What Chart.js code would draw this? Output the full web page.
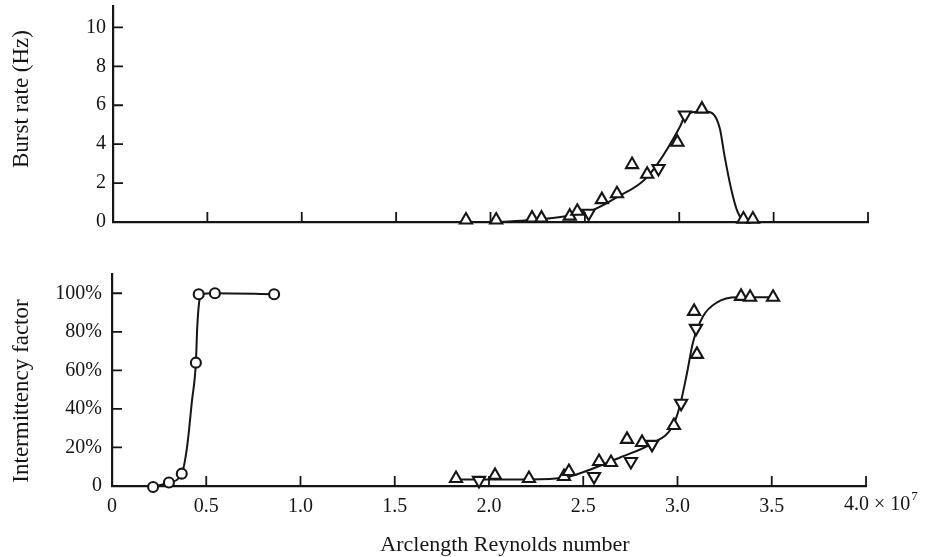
<!DOCTYPE html>
<html lang="en">
<head>
  <meta charset="UTF-8">
  <title>Burst rate and intermittency factor vs arclength Reynolds number</title>
  <style>
    body {
      margin: 0;
      background: #fff;
    }

    .wrap {
      position: relative;
      width: 936px;
      height: 557px;
    }

    .wrap canvas {
      position: absolute;
      left: 0;
      top: 0;
    }
  </style>
  <script src="https://cdn.jsdelivr.net/npm/chart.js"></script>
</head>
<body>
  <div class="wrap">
    <canvas id="burstChart" width="936" height="557"></canvas>
    <canvas id="gammaChart" width="936" height="557"></canvas>
  </div>

  <script>
    // x: arclength Reynolds number, in units of 10^7
    const reTicks = [0, 0.5, 1.0, 1.5, 2.0, 2.5, 3.0, 3.5, 4.0];
    const burstTicks = [0, 2, 4, 6, 8, 10];
    const gammaTicks = [0, 20, 40, 60, 80, 100];

    // top panel - burst rate (Hz)
    const burstUpX = [1.87, 2.03, 2.22, 2.27, 2.42, 2.46, 2.59, 2.67, 2.75, 2.83, 2.99, 3.12, 3.34, 3.39];
    const burstUpY = [0.1, 0.1, 0.2, 0.2, 0.3, 0.55, 1.15, 1.45, 2.95, 2.45, 4.1, 5.8, 0.15, 0.15];
    const burstDownX = [2.52, 2.89, 3.03];
    const burstDownY = [0.45, 2.75, 5.5];
    const burstCurveX = [2.035, 2.215, 2.406, 2.544, 2.671, 2.83, 3.005, 3.03, 3.08, 3.14, 3.18, 3.215, 3.24, 3.275, 3.31, 3.36, 3.47];
    const burstCurveY = [0, 0.1, 0.31, 0.62, 1.28, 2.31, 4.92, 5.45, 5.65, 5.68, 5.55, 4.8, 3.4, 1.7, 0.5, 0, 0];

    // bottom panel - intermittency factor (%)
    const gammaCircleX = [0.218, 0.302, 0.37, 0.445, 0.46, 0.546, 0.86];
    const gammaCircleY = [-0.5, 1.8, 6.4, 64, 99.5, 100, 99.5];
    const circleCurveX = [0.218, 0.302, 0.37, 0.398, 0.424, 0.445, 0.452, 0.462, 0.475, 0.546, 0.86];
    const circleCurveY = [-0.5, 1.8, 6.4, 20, 44, 64, 82, 95, 99.5, 100, 99.5];
    const gammaUpX = [1.825, 2.032, 2.212, 2.398, 2.424, 2.584, 2.647, 2.732, 2.812, 2.981, 3.088, 3.103, 3.337, 3.385, 3.507];
    const gammaUpY = [3.9, 5.5, 3.9, 4.9, 7.5, 12.7, 12.2, 24.2, 22.6, 31.4, 90.6, 68.3, 98.4, 97.9, 97.9];
    const gammaDownX = [1.947, 2.557, 2.753, 2.865, 3.019, 3.098];
    const gammaDownY = [2.9, 4.9, 12.7, 21.6, 42.9, 81.8];
    const gammaCurveX = [1.825, 2.032, 2.212, 2.403, 2.552, 2.695, 2.865, 2.976, 3.013, 3.05, 3.082, 3.135, 3.21, 3.316, 3.507];
    const gammaCurveY = [3.4, 3.4, 3.4, 4.4, 9.1, 14.8, 22.1, 31.4, 41.8, 58.4, 74.5, 88, 95.3, 97.9, 97.9];

    const INK = '#151515';
    const SERIF = "'Liberation Serif', 'DejaVu Serif', serif";
    const TICK_FONT = { family: SERIF, size: 20 };

    const toPoints = (xs, ys) => xs.map((x, i) => ({ x: x, y: ys[i] }));

    function markers(xs, ys, style, rotation, radius) {
      return {
        data: toPoints(xs, ys),
        showLine: false,
        pointStyle: style,
        pointRotation: rotation,
        pointRadius: radius,
        pointBackgroundColor: '#fff',
        pointBorderColor: INK,
        pointBorderWidth: 2.1,
        clip: false
      };
    }

    function curve(xs, ys) {
      return {
        data: toPoints(xs, ys),
        showLine: true,
        pointRadius: 0,
        borderColor: INK,
        borderWidth: 2,
        cubicInterpolationMode: 'monotone',
        fill: false,
        clip: false
      };
    }

    // tick marks point into the plot, like the printed figure; titles placed by hand
    const figureDecor = {
      id: 'figureDecor',
      afterDraw(chart, args, opts) {
        const { ctx, chartArea, scales } = chart;
        ctx.save();
        ctx.strokeStyle = INK;
        ctx.lineWidth = 1.8;
        ctx.beginPath();
        scales.x.ticks.forEach(t => {
          if (t.value === 0) return;
          const px = scales.x.getPixelForValue(t.value);
          ctx.moveTo(px, chartArea.bottom);
          ctx.lineTo(px, chartArea.bottom - 10);
        });
        scales.y.ticks.forEach(t => {
          if (t.value === 0) return;
          const py = scales.y.getPixelForValue(t.value);
          ctx.moveTo(chartArea.left, py);
          ctx.lineTo(chartArea.left + 10, py);
        });
        ctx.stroke();

        ctx.fillStyle = INK;
        ctx.textAlign = 'center';
        ctx.textBaseline = 'middle';

        // y axis title
        ctx.font = '23px ' + SERIF;
        ctx.save();
        ctx.translate(22, opts.yTitleY);
        ctx.rotate(-Math.PI / 2);
        ctx.fillText(opts.yTitle, 0, 0);
        ctx.restore();

        if (opts.xLabels) {
          ctx.font = '22px ' + SERIF;
          ctx.fillText('Arclength Reynolds number', 505, 545);

          // "4.0 × 10^7" sits a little left of the last tick
          const px = scales.x.getPixelForValue(4);
          const y = chartArea.bottom + scales.x.options.ticks.padding;
          ctx.textBaseline = 'top';
          ctx.textAlign = 'left';
          ctx.font = TICK_FONT.size + 'px ' + SERIF;
          const start = px - 22;
          ctx.fillText('4.0', start, y);
          const w1 = ctx.measureText('4.0 ').width;
          ctx.fillText('× 10', start + w1, y);
          const w2 = ctx.measureText('× 10').width;
          ctx.font = '13px ' + SERIF;
          ctx.fillText('7', start + w1 + w2 + 1, y - 5);
        }
        ctx.restore();
      }
    };

    function buildOptions(cfg) {
      return {
        responsive: false,
        animation: false,
        events: [],
        layout: {
          autoPadding: false,
          padding: { left: 0, top: cfg.top, right: cfg.right, bottom: cfg.bottom }
        },
        plugins: {
          legend: { display: false },
          tooltip: { enabled: false },
          figureDecor: { xLabels: cfg.xLabels, yTitle: cfg.yTitle, yTitleY: cfg.yTitleY }
        },
        scales: {
          x: {
            type: 'linear',
            min: 0,
            max: 4,
            grid: { display: false, drawTicks: false },
            border: { display: true, color: INK, width: 2.2 },
            afterBuildTicks: s => { s.ticks = reTicks.map(v => ({ value: v })); },
            afterFit: s => {
              s.height = cfg.xHeight;
              s.paddingLeft = 0;
              s.paddingRight = 0;
            },
            ticks: {
              display: cfg.xLabels,
              padding: 9,
              color: INK,
              font: TICK_FONT,
              autoSkip: false,
              maxRotation: 0,
              // the last label is drawn with its power of ten by the plugin
              callback: v => v === 0 ? '0' : (v === 4 ? '' : v.toFixed(1))
            },
            title: { display: false }
          },
          y: {
            type: 'linear',
            min: 0,
            max: cfg.yMax,
            grid: { display: false, drawTicks: false },
            border: { display: true, color: INK, width: 2.2 },
            afterBuildTicks: s => { s.ticks = cfg.yTicks.map(v => ({ value: v })); },
            afterFit: s => {
              s.width = cfg.yWidth;
              s.paddingTop = 0;
              s.paddingBottom = 0;
            },
            ticks: {
              padding: cfg.yPad,
              color: INK,
              font: TICK_FONT,
              callback: cfg.yFormat
            },
            title: { display: false }
          }
        }
      };
    }

    new Chart(document.getElementById('burstChart'), {
      type: 'scatter',
      data: {
        datasets: [
          markers(burstUpX, burstUpY, 'triangle', 0, 7),
          markers(burstDownX, burstDownY, 'triangle', 180, 7),
          curve(burstCurveX, burstCurveY)
        ]
      },
      options: buildOptions({
        top: 6, right: 68, bottom: 335,
        xHeight: 0, xLabels: false,
        yMax: 11.1, yTicks: burstTicks, yWidth: 113, yPad: 7,
        yTitle: 'Burst rate (Hz)', yTitleY: 99,
        yFormat: v => String(v)
      }),
      plugins: [figureDecor]
    });

    new Chart(document.getElementById('gammaChart'), {
      type: 'scatter',
      data: {
        datasets: [
          markers(gammaCircleX, gammaCircleY, 'circle', 0, 5),
          markers(gammaUpX, gammaUpY, 'triangle', 0, 7),
          markers(gammaDownX, gammaDownY, 'triangle', 180, 7),
          curve(circleCurveX, circleCurveY),
          curve(gammaCurveX, gammaCurveY)
        ]
      },
      options: buildOptions({
        top: 274, right: 70, bottom: 0,
        xHeight: 71, xLabels: true,
        yMax: 110, yTicks: gammaTicks, yWidth: 112, yPad: 10,
        yTitle: 'Intermittency factor', yTitleY: 391,
        yFormat: v => v === 0 ? '0' : v + '%'
      }),
      plugins: [figureDecor]
    });
  </script>
</body>
</html>
